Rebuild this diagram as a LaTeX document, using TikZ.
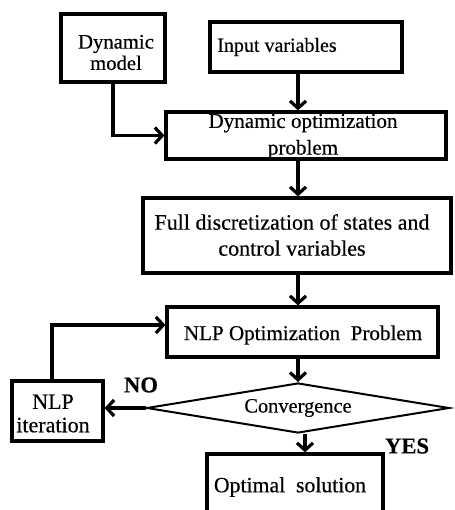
\documentclass[tikz,border=0pt]{standalone}
\usepackage{fontspec}
\setmainfont{Liberation Serif}[FakeBold=0.4]
\usetikzlibrary{arrows.meta,shapes.geometric}
\begin{document}
\begin{tikzpicture}[x=0.75pt,y=-0.75pt,
  box/.style={draw,line width=2.4pt,inner sep=0pt,rectangle},
  txt/.style={inner sep=0pt,align=center},
  conn/.style={line width=2.4pt,-{Straight Barb[length=5.5pt,width=12pt]}},
]
\useasboundingbox (0,0) rectangle (454,510);
\clip (0,0) rectangle (454,510);
% boxes
\node[box,minimum width=78pt,minimum height=51pt] (dm) at (113,48) {};
\node[box,minimum width=144pt,minimum height=37.5pt] (iv) at (306,47) {};
\node[box,minimum width=210pt,minimum height=35.25pt] (dop) at (306,135.5) {};
\node[box,minimum width=231pt,minimum height=56.25pt] (fd) at (297,235.5) {};
\node[box,minimum width=203.25pt,minimum height=37.5pt] (nlp) at (302.5,332) {};
\node[box,minimum width=68.25pt,minimum height=45pt] (it) at (57.5,411) {};
\node[box,minimum width=132pt,minimum height=57pt] (opt) at (295,492) {};
\node[draw,diamond,line width=1.5pt,aspect=6,inner sep=0pt,minimum width=227pt,minimum height=37.5pt,
  font=\fontsize{15.3}{18}\selectfont] (dia) at (298,408) {Convergence};
% texts
\node[txt,font=\fontsize{15.5}{16}\selectfont] (tdm) at (116,52.5) {Dynamic\\model};
\node[txt,font=\fontsize{15}{18}\selectfont] (tiv) at (277,47) {Input variables};
\node[txt,font=\fontsize{15.8}{20}\selectfont] (tdop) at (303,136.5) {Dynamic optimization\\problem};
\node[txt,font=\fontsize{16.5}{19.5}\selectfont] (tfd) at (292,235) {Full discretization of states and\\control variables};
\node[txt,font=\fontsize{15.8}{18}\selectfont] (tnlp) at (303,335) {NLP Optimization\ \ Problem};
\node[txt,font=\fontsize{16.5}{17.5}\selectfont] (tit) at (53,413.5) {NLP\\iteration};
\node[txt,font=\fontsize{16.3}{18}\selectfont] (topt) at (290,487) {Optimal\ \ solution};
\node[txt,font=\fontsize{17}{18}\selectfont\bfseries] (no) at (141,385) {NO};
\node[txt,font=\fontsize{17}{18}\selectfont\bfseries] (yes) at (407,446) {YES};
% connector columns
\coordinate (colx) at (298,0);
\coordinate (coly) at (305,0);
\coordinate (loopx) at (52,0);
% connectors
\draw[conn] (iv.south -| colx) -- (dop.north -| colx);
\draw[conn] (dm.south) |- (dop.west);
\draw[conn] (dop.south -| colx) -- (fd.north -| colx);
\draw[conn] (fd.south -| colx) -- (nlp.north -| colx);
\draw[conn] (nlp.south -| colx) -- (dia.north);
\draw[conn] (dia.west) -- (it.east |- dia.west);
\draw[conn] (it.north -| loopx) |- ([yshift=5.25pt]nlp.west);
\draw[conn] (dia.south -| coly) -- (opt.north -| coly);
\end{tikzpicture}
\end{document}
